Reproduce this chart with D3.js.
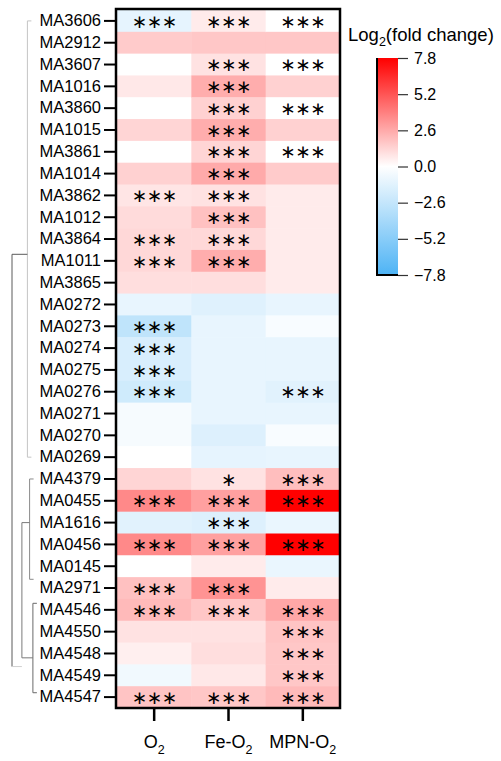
<!DOCTYPE html>
<html>
<head>
<meta charset="utf-8">
<script src="https://cdn.jsdelivr.net/npm/d3@7"></script>
<style>
  body { margin: 0; background: #fff; }
  text { font-family: "Liberation Sans", Arial, sans-serif; fill: #000; }
</style>
</head>
<body>
<div id="container"></div>
<script>
// rows of the heatmap, top to bottom
var genes = ["MA3606", "MA2912", "MA3607", "MA1016", "MA3860", "MA1015", "MA3861", "MA1014",
  "MA3862", "MA1012", "MA3864", "MA1011", "MA3865", "MA0272", "MA0273", "MA0274", "MA0275",
  "MA0276", "MA0271", "MA0270", "MA0269", "MA4379", "MA0455", "MA1616", "MA0456", "MA0145",
  "MA2971", "MA4546", "MA4550", "MA4548", "MA4549", "MA4547"];

var conditions = ["O2", "Fe-O2", "MPN-O2"];

// log2 fold change
var o2Values = [-1.1, 1.6, 0, 0.7, 0, 1.3, 0, 1.4, 0.8, 1.1, 1.2, 1.2, 1.0, -1.0, -2.8, -1.7,
  -1.7, -2.1, -0.4, -0.4, 0, 1.3, 3.6, -1.3, 3.6, 0, 1.9, 2.1, 0.9, 0.5, -0.6, 1.8];
var feO2Values = [0.6, 1.7, 0.9, 2.5, 1.4, 2.5, 1.3, 2.6, 0.9, 1.9, 1.2, 2.5, 1.0, -1.4, -1.0, -1.0,
  -1.0, -1.0, -1.0, -1.5, -1.1, 0.9, 2.9, -1.5, 2.9, 0.6, 3.3, 1.7, 0.9, 1.0, 0.7, 1.7];
var mpnO2Values = [0, 1.7, 0, 1.4, 0, 1.4, 0, 1.6, 0.6, 0.6, 0.6, 0.6, 0.6, -1.0, -0.3, -1.0,
  -1.0, -1.3, -1.0, -0.3, -1.0, 2.0, 7.8, -0.9, 7.8, -0.9, 0.6, 2.7, 1.8, 1.7, 1.7, 2.1];

// significance marks
var o2Sig = ["***", "", "", "", "", "", "", "", "***", "", "***", "***", "", "", "***", "***",
  "***", "***", "", "", "", "", "***", "", "***", "", "***", "***", "", "", "", "***"];
var feO2Sig = ["***", "", "***", "***", "***", "***", "***", "***", "***", "***", "***", "***", "", "", "", "",
  "", "", "", "", "", "*", "***", "***", "***", "", "***", "***", "", "", "", "***"];
var mpnO2Sig = ["***", "", "***", "", "***", "", "***", "", "", "", "", "", "", "", "", "",
  "", "***", "", "", "", "***", "***", "", "***", "", "", "***", "***", "***", "***", "***"];

var legendTicks = [7.8, 5.2, 2.6, 0, -2.6, -5.2, -7.8];

// dendrogram: row span of each branch and its height (0 = root, 1 = leaves)
var clusters = [
  { id: "A", from: 0, to: 20, height: 0.7 },
  { id: "B", from: 21, to: 25.6, height: 0.8 },
  { id: "D", from: 26.7, to: 30.8, height: 0.95 },
  { id: "C", from: 23, to: 29.2, height: 0.45 },
  { id: "root", from: 10.7, to: 29.6, height: 0 }
];
var joins = [
  { parent: "root", end: "from", child: "A" },
  { parent: "root", end: "to", child: "C" },
  { parent: "C", end: "from", child: "B" },
  { parent: "C", end: "to", child: "D" }
];

var width = 501;
var height = 761;

var svg = d3
  .select("#container")
  .append("svg")
  .attr("width", width)
  .attr("height", height);

var x = d3.scaleBand().domain(conditions).range([117, 340]);
var y = d3.scaleBand().domain(genes).range([10, 708]);

var color = d3
  .scaleLinear()
  .domain([-7.8, 0, 7.8])
  .range(["#4db3f5", "#ffffff", "#ff0000"]);

var cells = [];
var seriesValues = [o2Values, feO2Values, mpnO2Values];
var seriesSig = [o2Sig, feO2Sig, mpnO2Sig];
conditions.forEach(function(c, j) {
  genes.forEach(function(g, i) {
    cells.push({ gene: g, cond: c, value: seriesValues[j][i], sig: seriesSig[j][i] });
  });
});

svg
  .append("g")
  .selectAll("rect")
  .data(cells)
  .enter()
  .append("rect")
  .attr("x", d => x(d.cond))
  .attr("y", d => y(d.gene))
  .attr("width", x.bandwidth() + 0.5)
  .attr("height", y.bandwidth() + 0.5)
  .attr("fill", d => color(d.value));

// stars: asterisk operator glyph sits centred, so a small font box is enough
svg
  .append("g")
  .selectAll("text")
  .data(cells.filter(d => d.sig !== ""))
  .enter()
  .append("text")
  .attr("x", d => x(d.cond) + x.bandwidth() / 2)
  .attr("y", d => y(d.gene) + y.bandwidth() / 2)
  .attr("dy", "0.36em")
  .attr("text-anchor", "middle")
  .style("font-family", "'DejaVu Sans', sans-serif")
  .style("font-size", "18.5px")
  .style("letter-spacing", "-0.5px")
  .text(d => d.sig.replace(/\*/g, "\u2217"));

// frame
svg
  .append("rect")
  .attr("x", 116)
  .attr("y", 9)
  .attr("width", 224)
  .attr("height", 699)
  .attr("fill", "none")
  .attr("stroke", "#000")
  .attr("stroke-width", 2.5);

// y axis
var yAxis = svg
  .append("g")
  .attr("transform", "translate(115,0)")
  .call(d3.axisLeft(y).tickSize(11).tickPadding(3));
yAxis.select(".domain").remove();
yAxis.selectAll(".tick line").attr("stroke", "#000").attr("stroke-width", 2);
yAxis.selectAll(".tick text").style("font-size", "16.5px").attr("fill", "#000");

// x axis
var xAxis = svg
  .append("g")
  .attr("transform", "translate(0,709)")
  .call(d3.axisBottom(x).tickSize(12).tickFormat(""));
xAxis.select(".domain").remove();
xAxis.selectAll(".tick line").attr("stroke", "#000").attr("stroke-width", 2.5);

var xLabels = svg
  .append("g")
  .selectAll("text")
  .data(conditions)
  .enter()
  .append("text")
  .attr("x", d => x(d) + x.bandwidth() / 2)
  .attr("y", 748)
  .attr("text-anchor", "middle")
  .style("font-size", "18px");
xLabels.append("tspan").text(d => d.slice(0, -1));
xLabels
  .append("tspan")
  .attr("dy", 6)
  .style("font-size", "12.5px")
  .text("2");

// dendrogram
var depth = d3.scaleLinear().domain([0, 1]).range([12, 34]);
var rowY = r => y(genes[0]) + (r + 0.5) * y.step();
var byId = {};
clusters.forEach(c => (byId[c.id] = c));
var lineColor = { A: "#c4c4c4", B: "#8a8a8a", C: "#7a7a7a", D: "#6a6a6a", root: "#5a5a5a" };

var dendro = svg.append("g").attr("fill", "none").attr("stroke-width", 1);
dendro
  .selectAll("line.v")
  .data(clusters)
  .enter()
  .append("line")
  .attr("class", "v")
  .attr("x1", d => depth(d.height))
  .attr("x2", d => depth(d.height))
  .attr("y1", d => rowY(d.from))
  .attr("y2", d => rowY(d.to))
  .attr("stroke", d => lineColor[d.id]);

dendro
  .selectAll("line.h")
  .data(joins)
  .enter()
  .append("line")
  .attr("class", "h")
  .attr("x1", d => depth(byId[d.parent].height))
  .attr("x2", d => depth(byId[d.child].height))
  .attr("y1", d => rowY(byId[d.parent][d.end]))
  .attr("y2", d => rowY(byId[d.parent][d.end]))
  .attr("stroke", d => (d.parent === "root" && d.end === "to" ? "#d0d0d0" : lineColor[d.parent]));

// short caps towards the leaves
var leafCaps = [];
["A", "B", "D"].forEach(function(id) {
  leafCaps.push({ id: id, r: byId[id].from });
  leafCaps.push({ id: id, r: byId[id].to });
});
dendro
  .selectAll("line.cap")
  .data(leafCaps)
  .enter()
  .append("line")
  .attr("class", "cap")
  .attr("x1", d => depth(byId[d.id].height))
  .attr("x2", d => depth(byId[d.id].height) + 4)
  .attr("y1", d => rowY(d.r))
  .attr("y2", d => rowY(d.r))
  .attr("stroke", d => lineColor[d.id]);

// legend
var legendScale = d3.scaleLinear().domain([-7.8, 7.8]).range([275, 58]);

var gradient = svg
  .append("defs")
  .append("linearGradient")
  .attr("id", "gradient")
  .attr("x1", "0%")
  .attr("y1", "100%")
  .attr("x2", "0%")
  .attr("y2", "0%");

gradient
  .selectAll("stop")
  .data(d3.range(-7.8, 7.81, 0.78).map((v, i, arr) => ({
    offset: (100 * i) / (arr.length - 1) + "%",
    color: color(v)
  })))
  .enter()
  .append("stop")
  .attr("offset", d => d.offset)
  .attr("stop-color", d => d.color);

svg
  .append("rect")
  .attr("x", 377)
  .attr("y", legendScale(7.8))
  .attr("width", 21)
  .attr("height", legendScale(-7.8) - legendScale(7.8))
  .style("fill", "url(#gradient)");

svg
  .append("path")
  .attr("d", "M377," + legendScale(7.8) + "V" + legendScale(-7.8) + "H398")
  .attr("fill", "none")
  .attr("stroke", "#000")
  .attr("stroke-width", 2);

var legendAxis = svg
  .append("g")
  .attr("transform", "translate(398,0)")
  .call(
    d3.axisRight(legendScale)
      .tickValues(legendTicks)
      .tickSize(10)
      .tickPadding(6)
      .tickFormat(d3.format(".1f"))
  );
legendAxis.select(".domain").remove();
legendAxis.selectAll(".tick line").attr("stroke", "#333").attr("stroke-width", 1.2);
legendAxis.selectAll(".tick text").style("font-size", "16px").attr("fill", "#000");

var title = svg
  .append("text")
  .attr("x", 348)
  .attr("y", 41)
  .style("font-size", "18.5px");
title.append("tspan").text("Log");
title.append("tspan").attr("dy", 5).style("font-size", "12.5px").text("2");
title.append("tspan").attr("dy", -5).text("(fold change)");
</script>
</body>
</html>
